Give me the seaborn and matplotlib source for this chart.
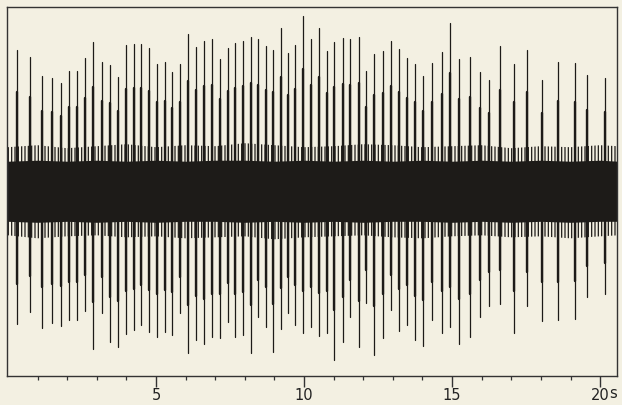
import numpy as np
import pandas as pd
import matplotlib
matplotlib.use("Agg")
import matplotlib.pyplot as plt
import seaborn as sns

# ---- data ----
spike_t = [0.29, 0.74, 1.15, 1.48, 1.78, 2.07, 2.34, 2.62, 2.88, 3.17,
           3.45, 3.71, 3.99, 4.27, 4.50, 4.76, 5.03, 5.29, 5.55, 5.82,
           6.08, 6.35, 6.62, 6.90, 7.17, 7.43, 7.68, 7.95, 8.21, 8.45,
           8.71, 8.96, 9.21, 9.46, 9.71, 9.96, 10.24, 10.50, 10.77, 11.02,
           11.31, 11.56, 11.85, 12.09, 12.36, 12.66, 12.93, 13.21, 13.49, 13.76,
           14.03, 14.33, 14.66, 14.93, 15.24, 15.60, 15.95, 16.25, 16.61, 17.09,
           17.54, 18.02, 18.56, 19.15, 19.55, 20.17]
spike_top = [141, 134, 115, 113, 108, 120, 120, 133, 149, 129,
             126, 114, 146, 147, 147, 143, 127, 129, 119, 127,
             157, 144, 150, 152, 132, 143, 148, 150, 154, 152,
             145, 141, 163, 138, 146, 175, 152, 163, 140, 149,
             153, 152, 154, 120, 137, 140, 150, 142, 133, 127,
             115, 128, 139, 168, 132, 134, 119, 111, 145, 127,
             141, 111, 129, 128, 116, 113]
spike_bot = [-133, -121, -137, -132, -135, -129, -129, -120, -158, -122,
             -151, -156, -143, -139, -134, -141, -146, -141, -144, -122,
             -162, -149, -153, -146, -147, -131, -146, -144, -162, -126,
             -136, -161, -138, -122, -134, -142, -136, -145, -142, -169,
             -151, -126, -156, -112, -164, -147, -119, -140, -134, -149,
             -155, -129, -142, -136, -153, -146, -126, -115, -113, -142,
             -115, -130, -129, -128, -106, -103]

env_t = [0, 1, 2, 3, 4, 5, 6, 7, 8, 9, 10, 11, 12, 13, 14, 15, 16, 17, 18, 19, 20, 20.6]
core_hi = [30, 31, 30, 31, 30, 31, 30, 31, 31, 30, 31, 30, 31, 30, 31, 30, 31, 30, 31, 30, 31, 30]
core_lo = [-30, -31, -30, -31, -30, -31, -30, -30, -31, -30, -31, -30, -31, -30, -30, -31, -30, -31, -30, -31, -30, -30]
fringe_hi = [44, 46, 43, 45, 47, 44, 46, 45, 48, 46, 44, 45, 47, 46, 44, 45, 46, 43, 45, 44, 46, 45]
fringe_lo = [-44, -47, -45, -44, -46, -45, -47, -46, -45, -48, -46, -45, -44, -46, -47, -45, -44, -46, -45, -47, -45, -44]

major_ticks = [5, 10, 15, 20]
major_labels = ["5", "10", "15", "20"]
unit_label = "s"

# ---- style ----
bg = "#f3f0e2"
ink = "#1d1b18"
sns.set_theme(style="ticks")
plt.rcParams["font.family"] = ["DejaVu Sans"]
plt.rcParams["hatch.linewidth"] = 0.9
plt.rcParams["hatch.color"] = ink

fig = plt.figure(figsize=(6.22, 4.05), dpi=100, facecolor=bg)
ax = fig.add_axes([0.0113, 0.0728, 0.9807, 0.9099])
ax.set_facecolor(bg)

# noise band: fringe (hatched) and dense core
ax.fill_between(env_t, fringe_lo, fringe_hi, facecolor="none", edgecolor=ink,
                hatch="|||||", linewidth=0, zorder=1)
ax.fill_between(env_t, core_lo, core_hi, color=ink, linewidth=0, zorder=2)

# spikes: full extent thin + inner thicker part
rows = []
for i, (t, hi, lo) in enumerate(zip(spike_t, spike_top, spike_bot)):
    rows.append({"t": t, "v": lo, "u": i})
    rows.append({"t": t, "v": hi, "u": i})
df = pd.DataFrame(rows)
sns.lineplot(data=df, x="t", y="v", units="u", estimator=None, sort=False,
             color=ink, linewidth=0.9, ax=ax, zorder=3)
rows2 = []
for i, (t, hi, lo) in enumerate(zip(spike_t, spike_top, spike_bot)):
    rows2.append({"t": t, "v": lo * 0.7, "u": i})
    rows2.append({"t": t, "v": hi * 0.7, "u": i})
df2 = pd.DataFrame(rows2)
sns.lineplot(data=df2, x="t", y="v", units="u", estimator=None, sort=False,
             color=ink, linewidth=1.7, ax=ax, zorder=3)

ax.set_xlim(-0.03, 20.57)
ax.set_ylim(-184, 184)
ax.set_xlabel("")
ax.set_ylabel("")
ax.set_yticks([])
ax.set_xticks(major_ticks)
ax.set_xticklabels(major_labels, fontsize=10.5, color="#222222")
ax.set_xticks(np.arange(1, 21, 1), minor=True)
ax.tick_params(axis="x", which="major", length=8, width=1.0, color="#333333", pad=1,
               direction="out")
ax.tick_params(axis="x", which="minor", length=3, width=0.9, color="#333333",
               direction="out")
for s in ax.spines.values():
    s.set_color("#333333")
    s.set_linewidth(1.0)

ax.text(20.31, -0.0285, unit_label, transform=ax.get_xaxis_transform(), fontsize=10.5,
        color="#222222", ha="left", va="top")

fig.savefig("out.png", dpi=100, facecolor=bg)
